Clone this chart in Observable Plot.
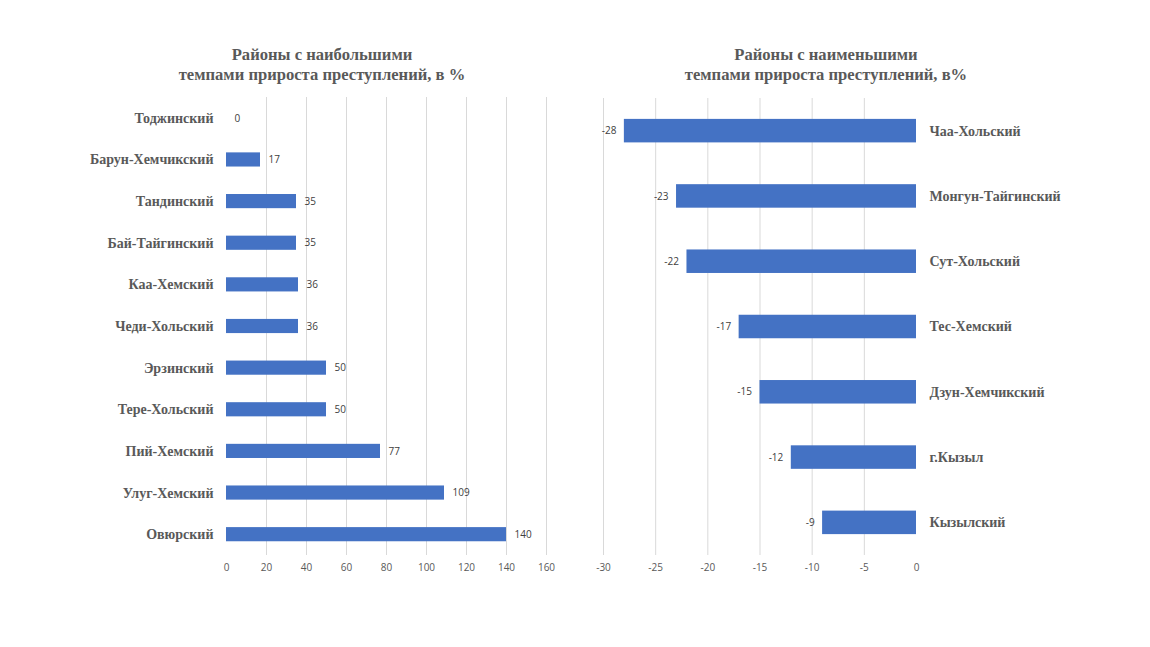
<!DOCTYPE html>
<html><head><meta charset="utf-8">
<script src="https://cdn.jsdelivr.net/npm/d3@7"></script>
<script src="https://cdn.jsdelivr.net/npm/@observablehq/plot@0.6"></script>
<style>
body{margin:0;background:#fff;width:1150px;height:647px;position:relative;overflow:hidden}
.title{position:absolute;font-family:"Liberation Serif",serif;font-weight:bold;font-size:16.6px;color:#595959;text-align:center;line-height:20px;white-space:nowrap}
.chart{position:absolute;top:90px}
</style></head><body>
<div class="title" style="left:122px;width:400px;top:45px">Районы с наибольшими<br>темпами прироста преступлений, в %</div>
<div class="title" style="left:626px;width:400px;top:45px">Районы с наименьшими<br>темпами прироста преступлений, в%</div>
<div class="chart" id="left" style="left:0px"></div>
<div class="chart" id="right" style="left:575px"></div>
<script>
const topNames = ["Тоджинский","Барун-Хемчикский","Тандинский","Бай-Тайгинский","Каа-Хемский","Чеди-Хольский","Эрзинский","Тере-Хольский","Пий-Хемский","Улуг-Хемский","Овюрский"];
const topValues = [0,17,35,35,36,36,50,50,77,109,140];
const topTicks = [0,20,40,60,80,100,120,140,160];
const lowNames = ["Чаа-Хольский","Монгун-Тайгинский","Сут-Хольский","Тес-Хемский","Дзун-Хемчикский","г.Кызыл","Кызылский"];
const lowValues = [-28,-23,-22,-17,-15,-12,-9];
const lowTicks = [-30,-25,-20,-15,-10,-5,0];

const topData = topNames.map((n,i)=>({name:n,value:topValues[i]}));
const lowData = lowNames.map((n,i)=>({name:n,value:lowValues[i]}));

const barColor = "#4472c4";
const sans = "'Open Sans', 'Liberation Sans', sans-serif";
const serif = "'Liberation Serif', serif";

const left = Plot.plot({
  width:575, height:500, marginLeft:226, marginRight:29, marginTop:7, marginBottom:35,
  style:{background:"transparent"},
  x:{domain:[0,160], label:null},
  y:{domain:topNames, paddingInner:0.66, paddingOuter:0.33, round:false, label:null},
  marks:[
    Plot.gridX(topTicks.filter(t=>t!==0),{stroke:"#d9d9d9",strokeOpacity:1}),
    Plot.barX(topData,{x:"value",y:"name",fill:barColor}),
    Plot.text(topData,{x:"value",y:"name",text:d=>String(d.value),dx:8,textAnchor:"start",fontSize:10,fill:"#404040",fontFamily:sans}),
    Plot.axisX(topTicks,{tickSize:0,tickPadding:8,fontSize:10,color:"#595959",fontFamily:sans,label:null,tickFormat:d=>String(d)}),
    Plot.axisY({tickSize:0,tickPadding:13,fontSize:14,fontWeight:"bold",fontFamily:serif,color:"#595959",label:null})
  ]
});
document.getElementById("left").appendChild(left);

const right = Plot.plot({
  width:575, height:500, marginLeft:28, marginRight:234, marginTop:8, marginBottom:35,
  style:{background:"transparent"},
  x:{domain:[-30,0], label:null},
  y:{domain:lowNames, paddingInner:0.64, paddingOuter:0.32, round:false, label:null},
  marks:[
    Plot.gridX(lowTicks.filter(t=>t!==0),{stroke:"#d9d9d9",strokeOpacity:1}),
    Plot.barX(lowData,{x:"value",y:"name",fill:barColor}),
    Plot.text(lowData,{x:"value",y:"name",text:d=>String(d.value),dx:-8,textAnchor:"end",fontSize:10,fill:"#404040",fontFamily:sans}),
    Plot.axisX(lowTicks,{tickSize:0,tickPadding:8,fontSize:10,color:"#595959",fontFamily:sans,label:null,tickFormat:d=>String(d)}),
    Plot.axisY({anchor:"right",tickSize:0,tickPadding:13,fontSize:14,fontWeight:"bold",fontFamily:serif,color:"#595959",label:null})
  ]
});
document.getElementById("right").appendChild(right);
</script>
</body></html>
